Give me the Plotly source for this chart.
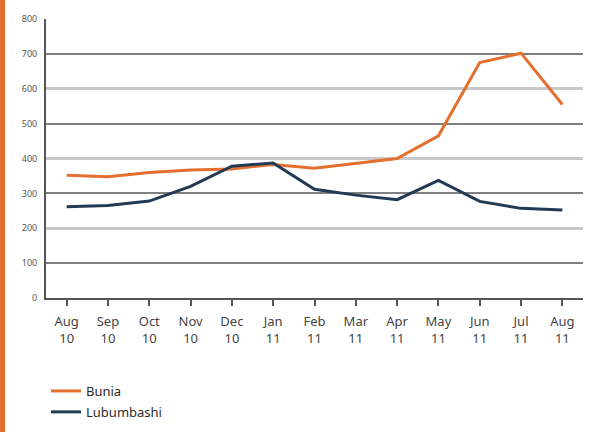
import plotly.graph_objects as go

months = ["Aug<br>10", "Sep<br>10", "Oct<br>10", "Nov<br>10", "Dec<br>10", "Jan<br>11", "Feb<br>11",
          "Mar<br>11", "Apr<br>11", "May<br>11", "Jun<br>11", "Jul<br>11", "Aug<br>11"]
bunia = [352, 348, 360, 367, 370, 383, 372, 385, 400, 465, 675, 702, 555]
lubumbashi = [262, 265, 278, 320, 378, 387, 312, 295, 282, 337, 277, 257, 252]

ORANGE = "#E4702F"
NAVY = "#233A55"
FONT = "Noto Sans"

x = list(range(len(months)))

fig = go.Figure()
# invisible helper traces so that the grid-only overlay axes are rendered
fig.add_trace(go.Scatter(x=[None], y=[None], yaxis="y2", showlegend=False, hoverinfo="skip"))
fig.add_trace(go.Scatter(x=[None], y=[None], yaxis="y3", showlegend=False, hoverinfo="skip"))
fig.add_trace(go.Scatter(x=x, y=bunia, mode="lines", name="Bunia", legendgroup="a",
                         line=dict(color=ORANGE, width=3)))
fig.add_trace(go.Scatter(x=x, y=lubumbashi, mode="lines", name="Lubumbashi", legendgroup="b",
                         line=dict(color=NAVY, width=3)))

yr = [0, 800]
W, H = 598, 432
ml, mr, mt, mb = 46, 15, 19, 134
pw = W - ml - mr
ph = H - mt - mb

fig.update_layout(
    width=W, height=H,
    margin=dict(l=ml, r=mr, t=mt, b=mb, pad=0, autoexpand=False),
    paper_bgcolor="white", plot_bgcolor="white",
    font=dict(family=FONT, color="#444"),
    xaxis=dict(range=[-0.5, len(months) - 0.5], tickvals=x, ticktext=months,
               showgrid=False, zeroline=False, showline=True, linecolor="#555", linewidth=2,
               ticks="outside", ticklen=6, tickwidth=1.5, tickcolor="#555",
               ticklabelstandoff=4,
               tickfont=dict(size=13, color="#444")),
    yaxis=dict(range=yr, dtick=100, showgrid=False, zeroline=False,
               showline=True, linecolor="#555", linewidth=2, ticks="",
               tickfont=dict(size=9, color="#555"), ticklabelstandoff=5),
    yaxis2=dict(range=yr, overlaying="y", tickvals=[100, 300, 500, 700], showgrid=True,
                gridcolor="#808080", gridwidth=1.5, showticklabels=False, zeroline=False,
                showline=False, ticks=""),
    yaxis3=dict(range=yr, overlaying="y", tickvals=[200, 400, 600, 800], showgrid=True,
                gridcolor="#c8c8c8", gridwidth=3, showticklabels=False, zeroline=False,
                showline=False, ticks=""),
    showlegend=True,
    legend=dict(x=0.0, y=(H - 376) / H, yref="container", xanchor="left", yanchor="top",
                bgcolor="rgba(0,0,0,0)",
                font=dict(size=13, color="#2a2a2a"), tracegroupgap=1, traceorder="grouped",
                itemwidth=30),
    shapes=[dict(type="rect", xref="paper", yref="paper",
                 x0=-ml / pw, x1=-(ml - 5) / pw, y0=-mb / ph, y1=1 + mt / ph,
                 fillcolor=ORANGE, line=dict(width=0), layer="below")],
)

fig.write_html("out.html", config={"displayModeBar": False},
               post_script="document.body.style.margin='0';")
